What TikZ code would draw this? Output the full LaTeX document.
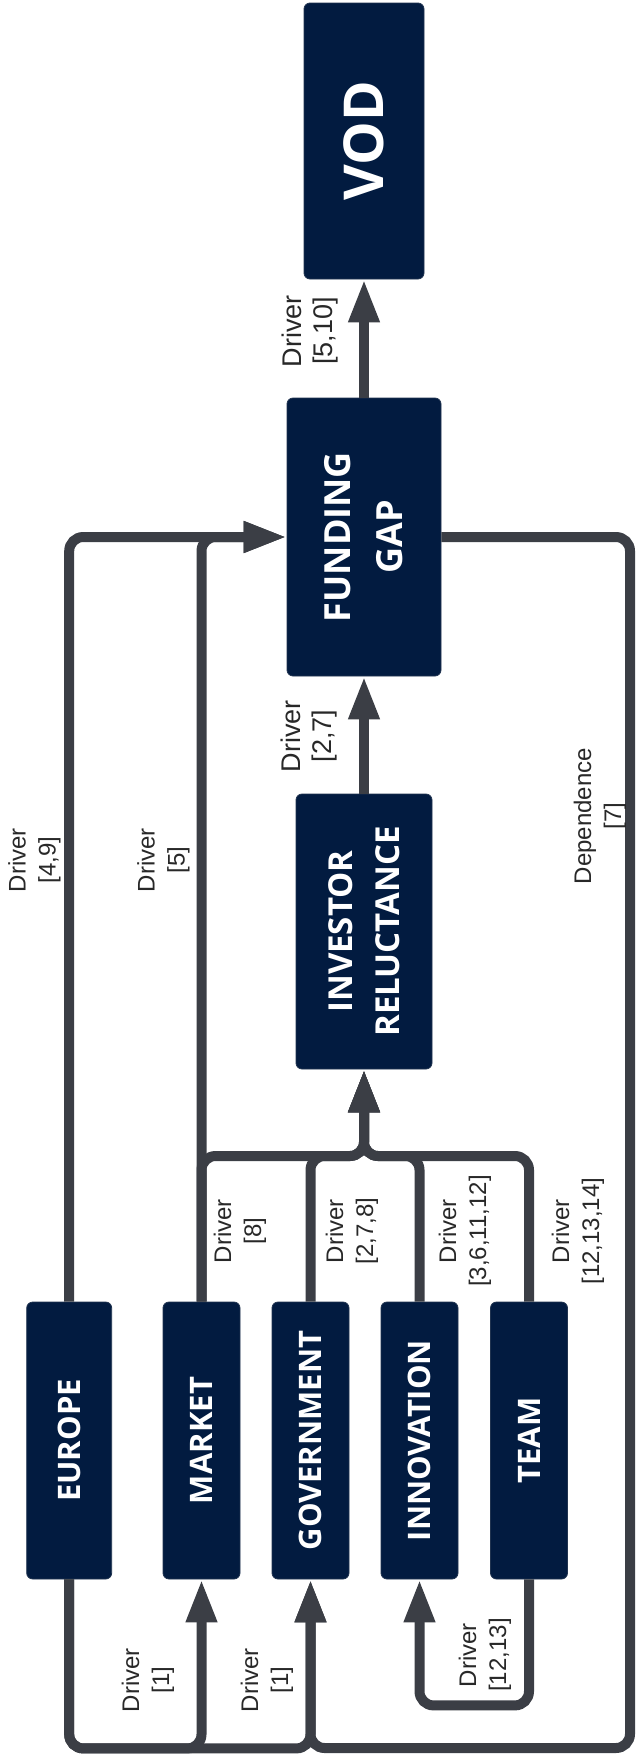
\documentclass[tikz,border=0pt]{standalone}
\usepackage{fontspec}
\setmainfont{Liberation Sans}
\newfontfamily\boxfont{Open Sans}
\usetikzlibrary{arrows.meta}
\definecolor{navy}{RGB}{2,27,64}
\definecolor{wirec}{RGB}{59,62,69}
\definecolor{lblc}{RGB}{40,40,40}
\tikzset{
  box/.style={draw=navy!75!gray, line width=0.8pt, fill=navy, rounded corners=6pt, inner sep=0pt, minimum height=277pt},
  boxtext/.style={text=white, rotate=90, align=center, inner sep=0pt},
  wire/.style={draw=wirec, line width=10pt, rounded corners=14pt},
  arr/.style={wire, -{Triangle[length=43pt,width=29pt]}},
  lbl/.style={rotate=90, align=center, inner sep=0pt, text=lblc, font=\fontsize{24}{30}\selectfont},
  lblbig/.style={lbl, font=\fontsize{27}{31}\selectfont},
}
\begin{document}
\begin{tikzpicture}[x=1pt,y=-1pt]
\useasboundingbox (0,0) rectangle (636,1757);
% boxes
\node[box, minimum width=120pt, minimum height=276pt,
  label={[boxtext, font=\boxfont\bfseries\fontsize{55}{60}\selectfont]center:VOD}] (vod) at (364,141) {};
\node[box, minimum width=154pt, minimum height=278pt,
  label={[boxtext, font=\boxfont\bfseries\fontsize{36}{52}\selectfont]center:FUNDING\\GAP}] (fg) at (364,537) {};
\node[box, minimum width=136pt, minimum height=275pt,
  label={[boxtext, font=\boxfont\bfseries\fontsize{33}{47}\selectfont]center:INVESTOR\\RELUCTANCE}] (ir) at (364,931.5) {};
\node[box, minimum width=85pt,
  label={[boxtext, font=\boxfont\bfseries\fontsize{31}{36}\selectfont]center:EUROPE}] (eur) at (69.2,1440.5) {};
\node[box, minimum width=77pt,
  label={[boxtext, font=\boxfont\bfseries\fontsize{31}{36}\selectfont]center:MARKET}] (mkt) at (201.5,1440.5) {};
\node[box, minimum width=77pt,
  label={[boxtext, font=\boxfont\bfseries\fontsize{31}{36}\selectfont]center:GOVERNMENT}] (gov) at (310.5,1440.5) {};
\node[box, minimum width=77pt,
  label={[boxtext, font=\boxfont\bfseries\fontsize{31}{36}\selectfont]center:INNOVATION}] (inn) at (419.5,1440.5) {};
\node[box, minimum width=77pt,
  label={[boxtext, font=\boxfont\bfseries\fontsize{31}{36}\selectfont]center:TEAM}] (team) at (529,1440.5) {};
% helper coordinates
\coordinate (jir) at (364,1156);
\coordinate (depc) at (630,1748);
% connectors
\draw[arr] (fg.north) -- (vod.south);
\draw[arr] (ir.north) -- (fg.south);
\draw[arr] (eur.north) |- (fg.west);
\draw[arr] (mkt.north) |- (fg.west);
\draw[arr] (mkt.north) |- (jir) -- (ir.south);
\draw[arr] (gov.north) |- (jir) -- (ir.south);
\draw[arr] (inn.north) |- (jir) -- (ir.south);
\draw[arr] (team.north) |- (jir) -- (ir.south);
\draw[arr] (fg.east) -| (depc) -| (gov.south);
\draw[arr] (eur.south) -- ++(0,169) -| (mkt.south);
\draw[arr] (eur.south) -- ++(0,169) -| (gov.south);
\draw[arr] (team.south) -- ++(0,126) -| (inn.south);
% labels
\node[lblbig] (l510) at (310,331) {Driver\\{}[5,10]};
\node[lblbig] (l27) at (309,736) {Driver\\{}[2,7]};
\node[lbl] (l49) at (34.5,860) {Driver\\{}[4,9]};
\node[lbl] (l5) at (163.5,860) {Driver\\{}[5]};
\node[lbl] (ldep) at (600,816) {Dependence\\{}[7]};
\node[lbl] (l8) at (240,1231) {Driver\\{}[8]};
\node[lbl] (l278) at (352,1231) {Driver\\{}[2,7,8]};
\node[lbl] (l361112) at (465,1231) {Driver\\{}[3,6,11,12]};
\node[lbl] (l121314) at (578,1231) {Driver\\{}[12,13,14]};
\node[lbl] (l1a) at (148,1680) {Driver\\{}[1]};
\node[lbl] (l1b) at (267,1680) {Driver\\{}[1]};
\node[lbl] (l1213) at (485,1655) {Driver\\{}[12,13]};
\end{tikzpicture}
\end{document}
